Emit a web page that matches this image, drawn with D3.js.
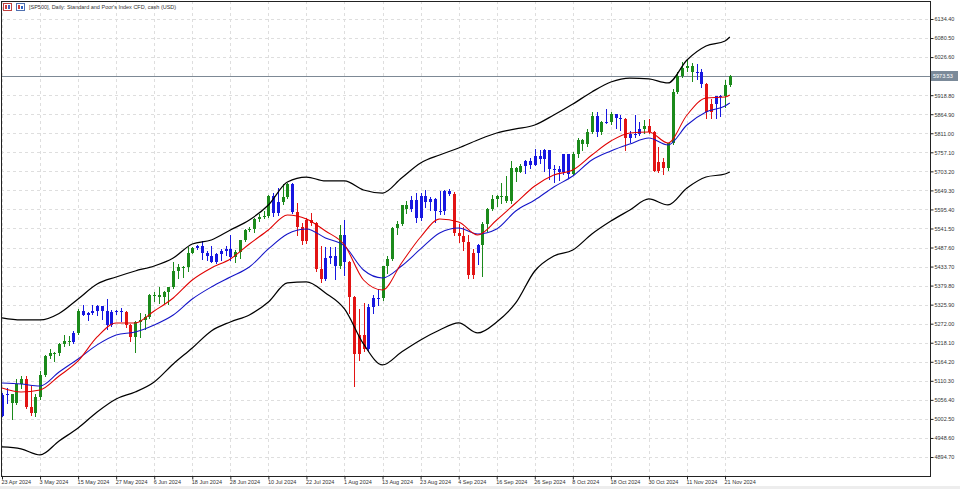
<!DOCTYPE html>
<html><head><meta charset="utf-8">
<script src="https://cdn.jsdelivr.net/npm/d3@7"></script>
<style>body{margin:0;background:#fff;overflow:hidden}svg{display:block}</style>
</head><body><svg id="c" width="960" height="489"></svg>
<script>
const title = "[SP500], Daily:  Standard and Poor's Index CFD, cash (USD)";
const dates = ["04-23","04-24","04-25","04-26","04-29","04-30","05-01","05-02","05-03","05-06","05-07","05-08","05-09","05-10","05-13","05-14","05-15","05-16","05-17","05-20","05-21","05-22","05-23","05-24","05-27","05-28","05-29","05-30","05-31","06-03","06-04","06-05","06-06","06-07","06-10","06-11","06-12","06-13","06-14","06-17","06-18","06-19","06-20","06-21","06-24","06-25","06-26","06-27","06-28","07-01","07-02","07-03","07-04","07-05","07-08","07-09","07-10","07-11","07-12","07-15","07-16","07-17","07-18","07-19","07-22","07-23","07-24","07-25","07-26","07-29","07-30","07-31","08-01","08-02","08-05","08-06","08-07","08-08","08-09","08-12","08-13","08-14","08-15","08-16","08-19","08-20","08-21","08-22","08-23","08-26","08-27","08-28","08-29","08-30","09-02","09-03","09-04","09-05","09-06","09-09","09-10","09-11","09-12","09-13","09-16","09-17","09-18","09-19","09-20","09-23","09-24","09-25","09-26","09-27","09-30","10-01","10-02","10-03","10-04","10-07","10-08","10-09","10-10","10-11","10-14","10-15","10-16","10-17","10-18","10-21","10-22","10-23","10-24","10-25","10-28","10-29","10-30","10-31","11-01","11-04","11-05","11-06","11-07","11-08","11-11","11-12","11-13","11-14","11-15","11-18","11-19","11-20","11-21","11-22"];
const opens = [5010.60,5070.55,5071.63,5048.42,5099.96,5116.17,5035.69,5018.39,5064.20,5127.79,
5180.74,5187.70,5187.67,5214.08,5222.68,5221.42,5246.68,5308.15,5297.10,5303.27,
5308.13,5321.41,5307.01,5267.84,5304.72,5308.50,5306.04,5266.95,5235.48,5277.51,
5283.40,5291.34,5354.03,5352.96,5346.99,5360.79,5375.32,5421.03,5433.74,5431.60,
5473.23,5487.03,5490.50,5473.17,5464.62,5447.87,5469.30,5477.90,5482.87,5460.48,
5475.09,5509.01,5537.02,5541.00,5567.19,5572.85,5576.98,5633.91,5584.54,5615.35,
5631.22,5667.20,5588.27,5544.59,5505.00,5564.41,5555.74,5427.13,5399.22,5459.10,
5463.54,5436.44,5522.30,5446.68,5346.56,5186.33,5240.03,5199.50,5319.31,5344.16,
5344.39,5434.43,5455.21,5543.22,5554.25,5608.25,5597.12,5620.85,5570.64,5634.61,
5616.84,5625.80,5592.18,5591.96,5648.40,5640.00,5528.93,5520.07,5503.41,5408.42,
5471.05,5495.52,5554.13,5595.76,5626.02,5633.09,5634.58,5618.26,5713.64,5702.55,
5718.57,5732.93,5722.26,5745.37,5738.17,5762.48,5708.75,5709.54,5699.94,5751.07,
5695.94,5751.13,5792.04,5780.05,5815.03,5859.85,5815.26,5842.47,5841.47,5864.67,
5853.98,5851.20,5797.42,5809.86,5808.12,5823.52,5832.92,5813.67,5705.45,5728.80,
5712.69,5782.76,5929.04,5973.10,5995.54,6001.35,5983.99,5985.38,5949.17,5870.62,
5893.62,5916.98,5917.11,5948.71];
const highs = [5076.12,5089.48,5074.00,5114.62,5123.49,5123.00,5096.12,5073.21,5139.12,5183.00,
5200.23,5191.95,5216.00,5239.66,5237.26,5250.37,5313.00,5325.49,5305.45,5325.32,
5324.32,5323.18,5341.88,5311.65,5312.00,5315.91,5308.00,5270.00,5280.33,5302.11,
5298.80,5356.00,5362.35,5375.08,5365.79,5375.95,5447.25,5441.93,5436.00,5488.50,
5490.38,5495.00,5505.53,5478.31,5490.66,5472.88,5483.14,5490.81,5523.64,5479.55,
5509.69,5539.27,5545.00,5570.33,5583.11,5590.75,5635.39,5642.45,5655.56,5666.94,
5669.67,5670.00,5614.05,5557.50,5570.36,5585.34,5560.00,5491.59,5488.32,5487.74,
5489.46,5551.51,5566.16,5450.00,5350.00,5312.34,5330.64,5328.03,5351.88,5371.20,
5436.50,5463.22,5546.23,5561.98,5608.30,5620.51,5632.68,5643.22,5641.82,5651.62,
5631.18,5627.03,5646.95,5651.37,5652.00,5645.00,5552.99,5546.30,5522.47,5484.20,
5497.91,5560.41,5600.71,5636.27,5636.05,5670.81,5689.75,5733.57,5715.14,5725.36,
5735.32,5741.03,5767.37,5763.78,5765.14,5765.00,5720.28,5718.78,5753.19,5753.00,
5757.60,5796.80,5795.03,5822.13,5871.41,5870.36,5846.52,5878.46,5872.17,5866.92,
5863.04,5853.00,5817.80,5862.82,5842.92,5847.19,5850.94,5816.00,5772.52,5741.43,
5783.44,5936.14,5983.84,6012.45,6017.31,6009.92,6008.19,5993.88,5952.00,5908.12,
5917.84,5920.67,5962.46,5975.00];
const lows = [5010.60,5047.02,5001.01,5045.00,5088.65,5033.00,5013.45,5011.05,5060.00,5125.00,
5176.00,5165.86,5182.88,5209.68,5211.16,5217.98,5244.00,5296.19,5283.59,5300.00,
5297.87,5286.01,5256.93,5265.00,5300.00,5280.89,5262.70,5222.10,5191.68,5234.32,
5257.63,5288.00,5335.36,5331.33,5331.52,5327.25,5372.00,5402.51,5403.75,5420.40,
5471.32,5484.00,5455.56,5452.03,5447.59,5444.00,5451.87,5467.54,5451.12,5446.53,
5458.43,5505.00,5533.00,5531.63,5562.51,5570.00,5574.00,5576.53,5580.00,5612.00,
5628.00,5584.81,5522.81,5497.04,5500.00,5550.90,5419.98,5390.95,5395.00,5444.44,
5398.99,5430.00,5410.42,5302.03,5095.00,5170.00,5195.54,5196.00,5300.86,5324.37,
5340.00,5415.24,5452.00,5525.17,5550.74,5585.50,5591.57,5560.95,5566.00,5602.34,
5593.48,5560.95,5583.71,5581.79,5636.00,5522.51,5503.66,5480.54,5402.62,5400.00,
5441.72,5406.96,5535.50,5593.00,5604.53,5614.05,5615.08,5615.00,5674.49,5700.00,
5698.99,5712.06,5720.00,5727.34,5703.53,5681.28,5674.00,5677.36,5697.00,5686.85,
5692.00,5745.02,5764.76,5775.09,5812.00,5804.48,5808.34,5840.25,5838.00,5824.81,
5821.17,5762.41,5784.92,5799.98,5805.00,5811.06,5811.28,5702.86,5700.00,5696.51,
5708.00,5780.00,5925.00,5970.00,5986.69,5960.08,5965.91,5942.28,5853.01,5855.00,
5853.61,5860.57,5885.71,5944.36];
const closes = [5070.55,5071.63,5048.42,5099.96,5116.17,5035.69,5018.39,5064.20,5127.79,5180.74,
5187.70,5187.67,5214.08,5222.68,5221.42,5246.68,5308.15,5297.10,5303.27,5308.13,
5321.41,5307.01,5267.84,5304.72,5308.50,5306.04,5266.95,5235.48,5277.51,5283.40,
5291.34,5354.03,5352.96,5346.99,5360.79,5375.32,5421.03,5433.74,5431.60,5473.23,
5487.03,5490.50,5473.17,5464.62,5447.87,5469.30,5477.90,5482.87,5460.48,5475.09,
5509.01,5537.02,5541.00,5567.19,5572.85,5576.98,5633.91,5584.54,5615.35,5631.22,
5667.20,5588.27,5544.59,5505.00,5564.41,5555.74,5427.13,5399.22,5459.10,5463.54,
5436.44,5522.30,5446.68,5346.56,5186.33,5240.03,5199.50,5319.31,5344.16,5344.39,
5434.43,5455.21,5543.22,5554.25,5608.25,5597.12,5620.85,5570.64,5634.61,5616.84,
5625.80,5592.18,5591.96,5648.40,5640.00,5528.93,5520.07,5503.41,5408.42,5471.05,
5495.52,5554.13,5595.76,5626.02,5633.09,5634.58,5618.26,5713.64,5702.55,5718.57,
5732.93,5722.26,5745.37,5738.17,5762.48,5708.75,5709.54,5699.94,5751.07,5695.94,
5751.13,5792.04,5780.05,5815.03,5859.85,5815.26,5842.47,5841.47,5864.67,5853.98,
5851.20,5797.42,5809.86,5808.12,5823.52,5832.92,5813.67,5705.45,5728.80,5712.69,
5782.76,5929.04,5973.10,5995.54,6001.35,5983.99,5985.38,5949.17,5870.62,5893.62,
5916.98,5917.11,5948.71,5973.53];
// candle colour codes: g = green, b = blue, r = red
const barColors = ("bbgggrrggg"+"gggggbgbbb"+"bbbbbbrrgg"+"gggggggggg"+"gbbbbbbbbg"+
  "gggggggbbg"+"gbrrrrrrbb"+"bgbrrrrbbb"+"ggggggbbbb"+"bbbbbrrrrr"+
  "bggggggggg"+"bbbbbbbbbb"+"gggggbgbgb"+"brbbbgrrrr"+"ggggggbbrr"+"bbgg").split("");

const lineKeys = ["04-23","04-29","05-03","05-09","05-15","05-21","05-27","05-31","06-06","06-12","06-18","06-24","06-28","07-04","07-10","07-16","07-22","07-26","08-01","08-07","08-13","08-19","08-23","08-29","09-04","09-10","09-16","09-20","09-26","10-02","10-08","10-14","10-18","10-24","10-30","11-05","11-11","11-15","11-21","11-22"];
const upperBand = [5288.2,5282.5,5282.5,5300.9,5342.0,5384.4,5404.2,5421.2,5435.3,5458.0,5497.6,5508.9,5537.2,5565.5,5608.0,5673.1,5687.2,5675.9,5675.9,5650.4,5641.9,5684.4,5726.9,5749.5,5769.3,5792.0,5811.8,5823.1,5834.4,5862.7,5893.8,5927.8,5956.1,5967.4,5964.6,5953.3,6018.4,6058.0,6072.1,6083.5];
const lowerBand = [4923.1,4917.5,4900.5,4940.1,4976.9,5022.2,5059.0,5078.8,5107.1,5158.1,5203.3,5251.5,5276.9,5296.7,5333.5,5387.2,5390.1,5358.9,5313.6,5214.6,5155.2,5191.9,5225.9,5254.2,5274.0,5245.7,5276.9,5330.6,5421.2,5463.6,5480.6,5525.9,5562.6,5593.8,5625.0,5608.0,5656.1,5687.2,5695.7,5701.4];
const fastMA = [5090.1,5078.8,5084.4,5124.0,5166.5,5234.4,5274.0,5274.0,5308.0,5344.8,5395.7,5429.7,5455.2,5497.6,5537.2,5579.7,5568.4,5534.4,5494.8,5395.7,5367.4,5443.9,5517.4,5568.4,5559.9,5523.1,5565.5,5613.6,5661.8,5692.9,5707.0,5749.5,5789.1,5811.8,5814.6,5783.5,5862.7,5910.8,5913.6,5919.3];
const slowMA = [5104.2,5101.4,5095.7,5135.4,5172.1,5212.0,5240.1,5248.6,5268.4,5296.7,5342.0,5375.9,5404.2,5432.5,5483.5,5525.9,5540.1,5514.6,5492.0,5424.0,5401.4,5435.3,5483.5,5528.7,5542.9,5525.9,5540.1,5591.0,5622.1,5659.0,5690.1,5735.3,5760.8,5780.6,5797.6,5777.8,5834.4,5871.2,5888.2,5896.7];

const priceTicks = [6134.40,6080.50,6026.60,5972.70,5918.80,5864.90,5811.00,5757.10,5703.20,5649.30,5595.40,5541.50,5487.60,5433.70,5379.80,5325.90,5272.00,5218.10,5164.20,5110.30,5056.40,5002.50,4948.60,4894.70];
const timeTickKeys = ["04-23","05-03","05-15","05-27","06-06","06-18","06-28","07-10","07-22","08-01","08-13","08-23","09-04","09-16","09-26","10-08","10-18","10-30","11-11","11-21"];
const timeTickLabels = ["23 Apr 2024","3 May 2024","15 May 2024","27 May 2024","6 Jun 2024","18 Jun 2024","28 Jun 2024","10 Jul 2024","22 Jul 2024","1 Aug 2024","13 Aug 2024","23 Aug 2024","4 Sep 2024","16 Sep 2024","26 Sep 2024","8 Oct 2024","18 Oct 2024","30 Oct 2024","11 Nov 2024","21 Nov 2024"];
const lastPrice = 5973.53;

const colorMap = {g:"#1b8a1b", b:"#1717e0", r:"#e21414"};
const FONT = "'Liberation Sans', Arial, sans-serif";
const plotL = 1, plotR = 930, plotT = 1, plotB = 476;

const svg = d3.select("#c");
svg.append("rect").attr("width",960).attr("height",489).attr("fill","#fff");
svg.append("rect").attr("x",0).attr("y",486).attr("width",960).attr("height",3).attr("fill","#ededed");

const x = d3.scalePoint().domain(dates).range([2, 729.8]);
const y = d3.scaleLinear().domain([4894.7, 6134.4]).range([457, 19]);
const px = v => Math.round(v) + 0.5;

svg.append("clipPath").attr("id","plot").append("rect")
  .attr("x",plotL).attr("y",plotT).attr("width",plotR-plotL).attr("height",plotB-plotT);

// grid
const grid = svg.append("g").attr("stroke","#dedede").attr("stroke-width",1).attr("stroke-dasharray","3,3");
grid.selectAll("line.h").data(priceTicks).join("line").attr("class","h")
  .attr("x1",plotL).attr("x2",plotR).attr("y1",d=>px(y(d))).attr("y2",d=>px(y(d)));
grid.selectAll("line.v").data(timeTickKeys).join("line").attr("class","v")
  .attr("y1",plotT).attr("y2",plotB).attr("x1",d=>px(x(d))).attr("x2",d=>px(x(d)));

const plot = svg.append("g").attr("clip-path","url(#plot)");

// current price line
plot.append("line").attr("x1",plotL).attr("x2",plotR)
  .attr("y1",px(y(lastPrice))).attr("y2",px(y(lastPrice)))
  .attr("stroke","#7d8995").attr("stroke-width",1);

// candles
const bars = d3.range(dates.length);
const cg = plot.append("g").attr("shape-rendering","crispEdges");
cg.selectAll("line.w").data(bars).join("line").attr("class","w")
  .attr("x1",i=>px(x(dates[i]))).attr("x2",i=>px(x(dates[i])))
  .attr("y1",i=>Math.round(y(highs[i]))).attr("y2",i=>Math.round(y(lows[i]))+1)
  .attr("stroke",i=>colorMap[barColors[i]]).attr("stroke-width",1);
cg.selectAll("rect.b").data(bars).join("rect").attr("class","b")
  .attr("x",i=>Math.round(x(dates[i]))-1)
  .attr("width",3)
  .attr("y",i=>Math.round(y(Math.max(opens[i],closes[i]))))
  .attr("height",i=>Math.max(1, Math.round(y(Math.min(opens[i],closes[i]))) - Math.round(y(Math.max(opens[i],closes[i])))))
  .attr("fill",i=>colorMap[barColors[i]]);

// lines
const line = d3.line().x((d,i)=>x(lineKeys[i])).y(d=>y(d)).curve(d3.curveMonotoneX);
plot.append("path").datum(upperBand).attr("d",line).attr("fill","none").attr("stroke","#000").attr("stroke-width",1.25);
plot.append("path").datum(lowerBand).attr("d",line).attr("fill","none").attr("stroke","#000").attr("stroke-width",1.25);
plot.append("path").datum(slowMA).attr("d",line).attr("fill","none").attr("stroke","#1414c8").attr("stroke-width",1.05);
plot.append("path").datum(fastMA).attr("d",line).attr("fill","none").attr("stroke","#e00000").attr("stroke-width",1.05);

// frame
svg.append("rect").attr("x",plotL+0.5).attr("y",plotT+0.5).attr("width",plotR-plotL).attr("height",plotB-plotT)
  .attr("fill","none").attr("stroke","#222").attr("stroke-width",1);

// axes
const yAxis = d3.axisRight(y).tickValues(priceTicks).tickFormat(d3.format(".2f")).tickSize(3).tickPadding(1);
const ya = svg.append("g").attr("transform",`translate(${plotR+0.5},0)`).call(yAxis);
ya.select(".domain").remove();
ya.selectAll("line").attr("stroke","#222");
ya.selectAll("text").attr("font-family",FONT).attr("font-size","5.5px").attr("fill","#333").attr("dy","0.33em");

const xAxis = d3.axisBottom(x).tickValues(timeTickKeys)
  .tickFormat(k=>timeTickLabels[timeTickKeys.indexOf(k)]).tickSize(3).tickPadding(1);
const xa = svg.append("g").attr("transform",`translate(0,${plotB+0.5})`).call(xAxis);
xa.select(".domain").remove();
xa.selectAll("line").attr("stroke","#222");
xa.selectAll("text").attr("font-family",FONT).attr("font-size","5.5px").attr("fill","#333")
  .attr("text-anchor","start").attr("dx","-1");

// current price label
const ly = y(lastPrice);
svg.append("rect").attr("x",931).attr("y",Math.round(ly)-5).attr("width",27).attr("height",10).attr("fill","#7b8a99");
svg.append("text").attr("x",933).attr("y",ly).attr("dy","0.35em").attr("font-family",FONT)
  .attr("font-size","5.5px").attr("fill","#fff").text(lastPrice.toFixed(2));

// title icons and text
const ic = svg.append("g").attr("shape-rendering","crispEdges");
ic.append("rect").attr("x",3.5).attr("y",3.5).attr("width",8).attr("height",7).attr("fill","#fff").attr("stroke","#c04040");
ic.append("rect").attr("x",5).attr("y",5).attr("width",2).attr("height",4).attr("fill","#d04040");
ic.append("rect").attr("x",8).attr("y",5).attr("width",2).attr("height",4).attr("fill","#4060c0");
ic.append("rect").attr("x",16.5).attr("y",3.5).attr("width",8).attr("height",7).attr("fill","#fff").attr("stroke","#5070b0");
ic.append("rect").attr("x",18).attr("y",5).attr("width",2).attr("height",4).attr("fill","#d04040");
ic.append("rect").attr("x",21).attr("y",6).attr("width",2).attr("height",3).attr("fill","#3060c0");
svg.append("text").attr("x",29).attr("y",9).attr("font-family",FONT).attr("font-size","5.5px")
  .attr("fill","#333").text(title);
</script></body></html>
